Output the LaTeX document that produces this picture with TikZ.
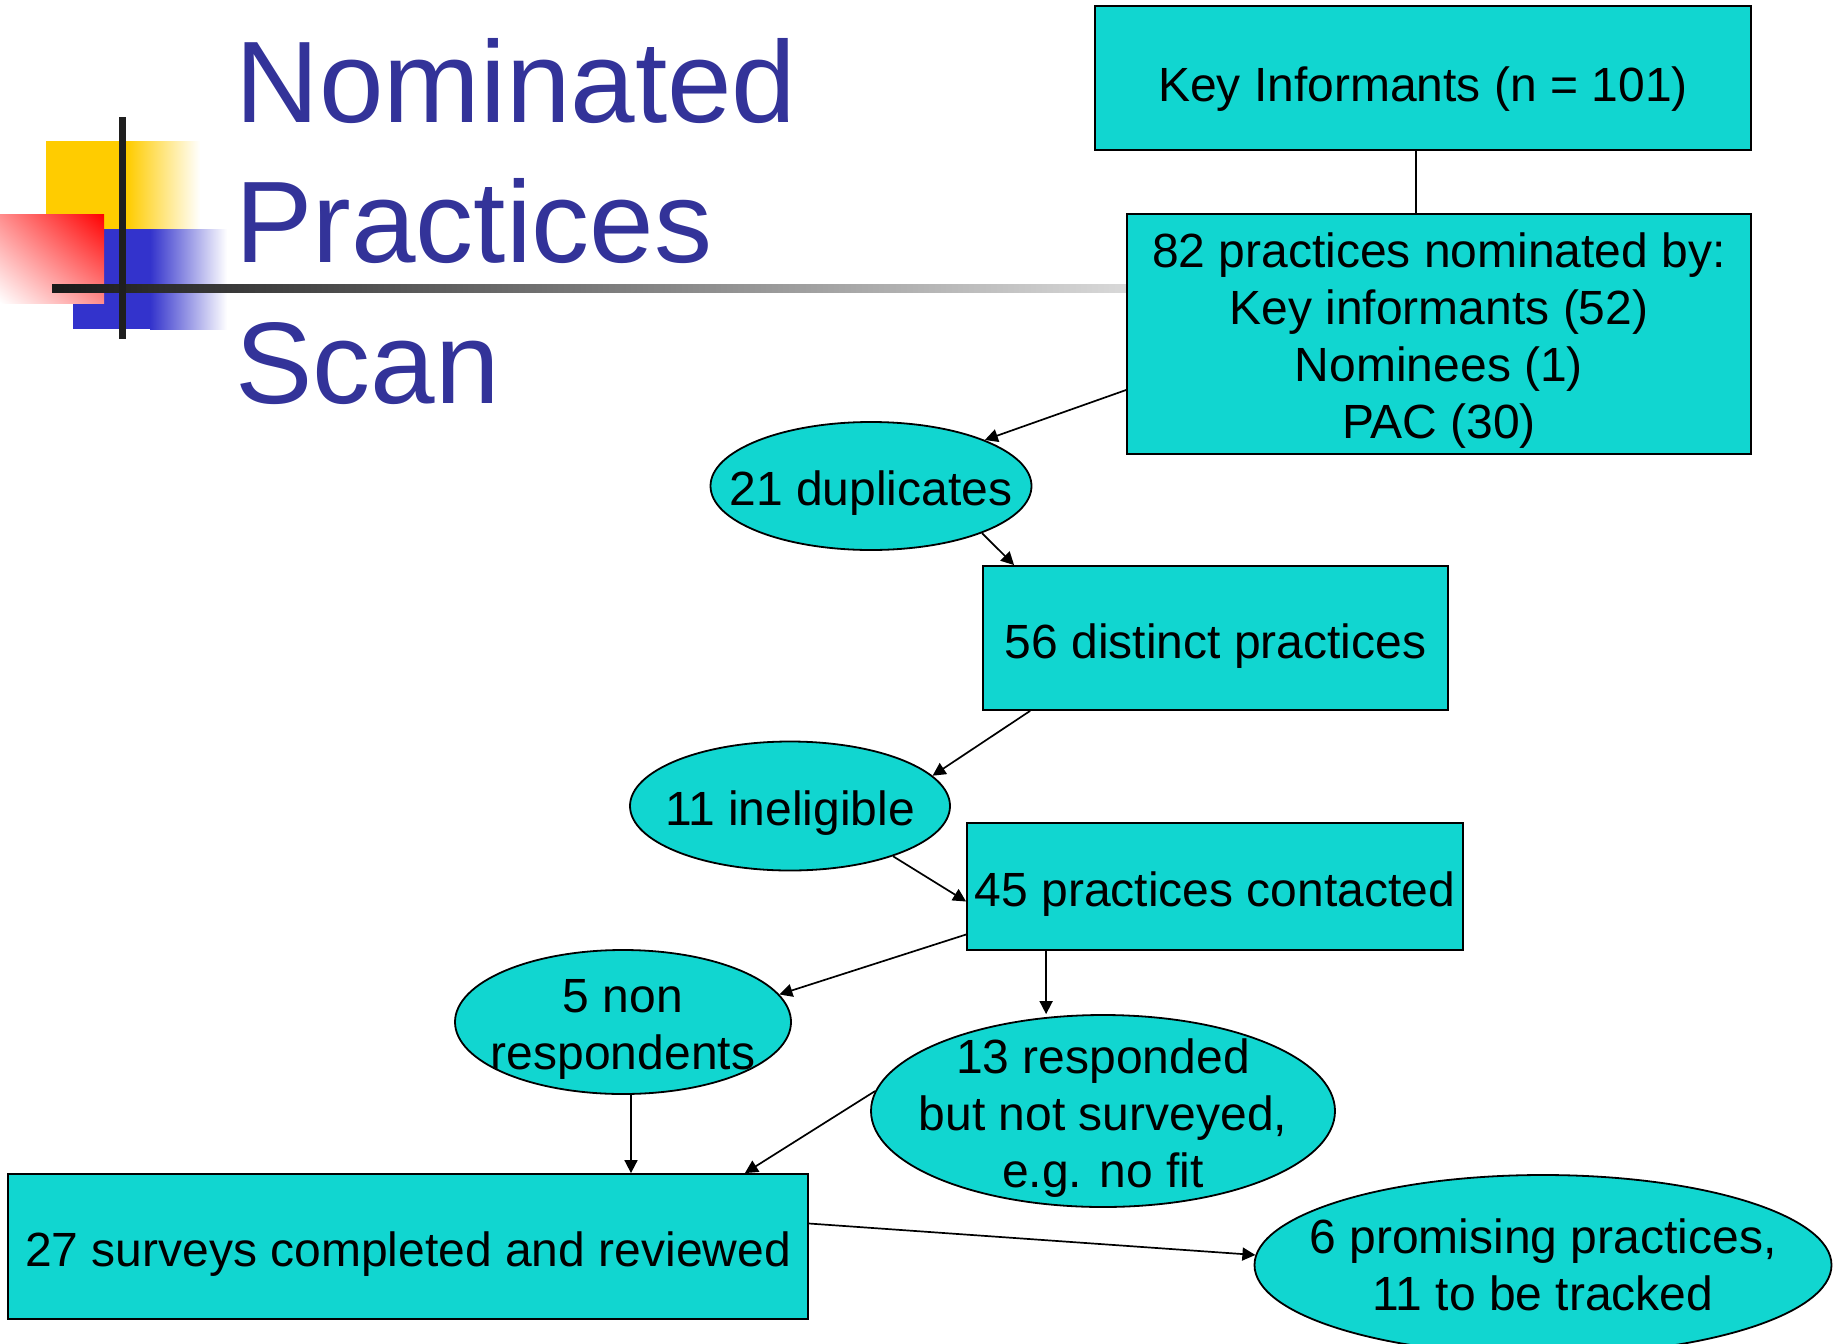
\documentclass[tikz,border=0pt]{standalone}
\usepackage{fontspec}
\setmainfont{Liberation Sans}
\usetikzlibrary{shapes.geometric,arrows.meta,calc,shadings}
\definecolor{boxcyan}{RGB}{17,214,208}
\definecolor{titleblue}{RGB}{51,51,153}
\definecolor{logoyellow}{RGB}{255,204,0}
\definecolor{logoblue}{RGB}{51,51,204}

\begin{document}
\begin{tikzpicture}[x=0.5pt,y=-0.5pt,
  every node/.style={font=\fontsize{24}{28.5}\selectfont},
  every label/.style={yshift=-3.5pt},
  box/.style={draw,fill=boxcyan,line width=0.9pt,inner sep=0pt,align=center,
    execute at begin node={\rule{0pt}{25pt}}},
  oval/.style={ellipse,draw,fill=boxcyan,line width=0.9pt,inner sep=0pt},
  arr/.style={-{Triangle[length=6.5pt,width=6.5pt]},line width=0.85pt},
  ttl/.style={anchor=base west,inner sep=0pt,text=titleblue,font=\fontsize{58}{70}\selectfont}]
\useasboundingbox (0,0) rectangle (1835,1343);
\fill[logoyellow] (46,141) rectangle (127,229);
\shade[left color=logoyellow,right color=white] (127,141) rectangle (200,229);
\fill[logoblue] (73,229) rectangle (150,329);
\shade[left color=logoblue,right color=white] (150,229) rectangle (227,329);
\shade[upper right=red,lower left=white,upper left=red!45,lower right=red!45] (0,214) rectangle (104,303);
\shade[left color=black!90,right color=black!15] (52,284) rectangle (1127,292);
\fill[black!88] (119,117) rectangle (126,339);
\node[ttl] (ttlA) at (235,123) {Nominated};
\node[ttl] (ttlB) at (235,262) {Practices};
\node[ttl] (ttlC) at (235,403) {Scan};
\node[box,minimum width=328pt,minimum height=72pt] (ki) at (1423,78) {\rule{0pt}{28pt}Key Informants (n = 101)};
\node[box,minimum width=312pt,minimum height=120pt] (np) at (1439,334) {\rule{0pt}{24pt}82 practices nominated by:\\Key informants (52)\\Nominees (1)\\PAC (30)};
\node[oval,minimum width=160.5pt,minimum height=64pt,label={center:21 duplicates}] (dup) at (871,486) {};
\node[box,minimum width=232.5pt,minimum height=72pt] (ds) at (1215.5,638) {56 distinct practices};
\node[oval,minimum width=160pt,minimum height=64.5pt,label={center:11 ineligible}] (ine) at (790,806) {};
\node[box,minimum width=248pt,minimum height=63.5pt] (pc) at (1215,886.5) {45 practices contacted};
\node[oval,minimum width=168pt,minimum height=72pt,label={[align=center]center:{5 non\\respondents}}] (non) at (623,1022) {};
\node[oval,minimum width=232pt,minimum height=96pt,label={[align=center]center:{13 responded\\but not surveyed,\\e.g. no fit}}] (resp) at (1103,1111) {};
\node[box,minimum width=400pt,minimum height=72.5pt] (sv) at (408,1246.5) {27 surveys completed and reviewed};
\node[oval,minimum width=288.5pt,minimum height=90pt,label={[align=center,yshift=3.5pt]center:{6 promising practices,\\11 to be tracked}}] (pr) at (1543,1265) {};
\coordinate (kib) at ($(ki.south)+(-7,0)$);
\draw[line width=0.85pt] (kib) -- (kib |- np.north);
\draw[arr] ($(np.west)+(0,56)$) -- (dup.22);
\draw[arr] (dup.-23) -- ($(ds.north west)+(32,0)$);
\draw[arr] ($(ds.south west)+(48,0)$) -- (ine.12);
\draw[arr] (ine.-26) -- ($(pc.west)+(0,15)$);
\draw[arr] ($(pc.west)+(0,48)$) -- (non.10);
\coordinate (pcb) at ($(pc.south west)+(80,0)$);
\draw[arr] (pcb) -- (pcb |- resp.north);
\coordinate (nonb) at ($(non.south)+(8,0)$);
\draw[arr] (nonb) -- (nonb |- sv.north);
\draw[arr] (resp.175) -- ($(sv.north east)+(-64,0)$);
\draw[arr] ($(sv.east)+(0,-23)$) -- (pr.178);
\end{tikzpicture}
\end{document}
